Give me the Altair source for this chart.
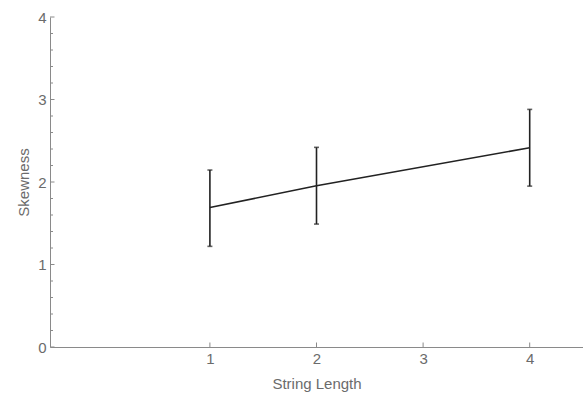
import altair as alt
import pandas as pd

# Skewness measured for each string length, with its error range
lengths = [1, 2, 4]
skew = [1.69, 1.955, 2.415]
lower = [1.22, 1.49, 1.95]
upper = [2.145, 2.42, 2.88]

# Axis tick values
x_ticks = [1, 2, 3, 4]
y_major = [0, 1, 2, 3, 4]
y_minor = [round(i * 0.2, 1) for i in range(1, 20) if i % 5 != 0]

X_DOMAIN = [-0.5, 4.5]
Y_DOMAIN = [0, 4]
W, H = 533, 330
INK = "#222222"
AXIS = "#8a8a8a"
FONT = "Liberation Sans"

df = pd.DataFrame({"length": lengths, "skew": skew, "lower": lower, "upper": upper})
caps = pd.DataFrame({"length": lengths * 2, "cap": lower + upper})

xs = alt.Scale(domain=X_DOMAIN, nice=False, zero=False)
ys = alt.Scale(domain=Y_DOMAIN, nice=False, zero=False)
x_axis = alt.Axis(values=x_ticks, tickSize=0, grid=False, labelPadding=4,
                  titlePadding=10, format="d")
y_axis = alt.Axis(values=y_major, tickSize=0, grid=False, labelPadding=4,
                  titlePadding=6, format="d")
X_TITLE = "String Length"
Y_TITLE = "Skewness"


def xq(field):
    return alt.X(field, scale=xs, axis=x_axis, title=X_TITLE)


def yq(field):
    return alt.Y(field, scale=ys, axis=y_axis, title=Y_TITLE)


line = alt.Chart(df).mark_line(color=INK, strokeWidth=1.6).encode(
    x=xq("length:Q"), y=yq("skew:Q"),
)

bars = alt.Chart(df).mark_rule(color=INK, strokeWidth=1.6).encode(
    x=xq("length:Q"), y=yq("lower:Q"), y2="upper:Q",
)

cap_marks = alt.Chart(caps).mark_tick(color=INK, orient="horizontal", size=5, thickness=1.6).encode(
    x=xq("length:Q"), y=yq("cap:Q"),
)

# Inward-pointing axis ticks
y_major_ticks = alt.Chart(pd.DataFrame({"v": y_major})).mark_rule(color=AXIS, strokeWidth=1).encode(
    x=alt.value(0), x2=alt.value(4.5), y=yq("v:Q"),
)
y_minor_ticks = alt.Chart(pd.DataFrame({"v": y_minor})).mark_rule(color=AXIS, strokeWidth=1).encode(
    x=alt.value(0), x2=alt.value(3), y=yq("v:Q"),
)
x_major_ticks = alt.Chart(pd.DataFrame({"v": x_ticks})).mark_rule(color=AXIS, strokeWidth=1).encode(
    x=xq("v:Q"), y=alt.value(H), y2=alt.value(H - 4.5),
)

chart = alt.layer(
    line, bars, cap_marks, y_major_ticks, y_minor_ticks, x_major_ticks
).properties(
    width=W, height=H,
    autosize=alt.AutoSizeParams(type="none"),
    padding={"left": 50, "top": 17, "right": 0, "bottom": 49},
).configure_view(
    stroke=None
).configure_axis(
    domainColor=AXIS, domainWidth=1,
    labelColor="#6b6b6b", titleColor="#6b6b6b",
    labelFont=FONT, titleFont=FONT,
    labelFontSize=15, titleFontSize=15, titleFontWeight="normal",
)

chart.save("out.html", embed_options={"renderer": "svg", "actions": False})
